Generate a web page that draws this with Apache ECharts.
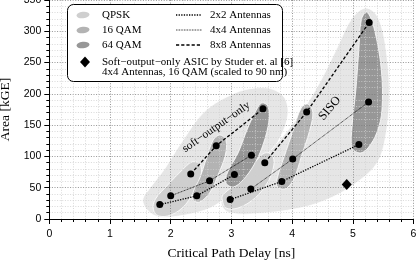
<!DOCTYPE html>
<html><head><meta charset="utf-8">
<script src="https://cdn.jsdelivr.net/npm/echarts@6/dist/echarts.min.js"></script>
<style>html,body{margin:0;padding:0;background:#fff}#c{width:416px;height:264px}</style>
</head><body><div id="c"></div>
<script>
// ---- axis ranges ----
const xRange = {min: 0, max: 6, interval: 1};
const yRange = {min: 0, max: 350, interval: 50};
const xTitle = 'Critical Path Delay [ns]';
const yTitle = 'Area [kGE]';

// ---- data: [delay ns, area kGE], ordered QPSK -> 16QAM -> 64QAM ----
const soft2x2 = [[1.82,23],[2.43,37],[3.05,71]];
const soft4x4 = [[2.00,37],[2.64,61],[3.33,102]];
const soft8x8 = [[2.33,72],[2.75,117],[3.52,176]];
const siso2x2 = [[2.98,31],[3.83,60],[5.10,119]];
const siso4x4 = [[3.32,48],[4.01,96],[5.26,187]];
const siso8x8 = [[3.55,90],[4.24,171],[5.27,314]];
const studer  = [[4.90,55]];

// ---- region outlines (data units) ----
const softEnvelope = [[1.54,30.4],[1.63,12.8],[1.82,3.2],[2.24,6.4],[2.65,17.6],[2.94,36.8],[3.22,62.3],[3.55,94.3],[3.80,129.4],[3.93,166.2],[3.88,193.4],[3.67,207.7],[3.39,209.3],[3.06,201.3],[2.57,172.6],[2.15,118.3],[1.91,81.5],[1.66,49.5]];
const sisoEnvelope = [[2.83,25.6],[2.94,11.2],[3.31,8.0],[4.13,17.6],[4.67,35.2],[5.12,62.3],[5.40,89.5],[5.53,126.2],[5.60,190.2],[5.56,262.1],[5.42,321.2],[5.22,337.2],[4.99,321.2],[4.74,273.3],[4.46,218.9],[4.18,174.2],[3.88,135.8],[3.55,99.1],[3.19,62.3],[2.91,38.4]];
const softQPSK = [[1.71,19.2],[1.77,6.4],[1.95,4.8],[2.19,17.6],[2.38,43.1],[2.50,70.3],[2.48,87.9],[2.35,91.1],[2.19,78.3],[1.95,54.3],[1.76,33.6]];
const soft16QAM = [[2.37,30.4],[2.48,27.2],[2.65,43.1],[2.78,70.3],[2.90,102.3],[2.91,126.2],[2.81,134.2],[2.70,126.2],[2.58,94.3],[2.48,65.5],[2.37,43.1]];
const soft64QAM = [[2.91,57.5],[3.03,51.1],[3.19,62.3],[3.37,86.3],[3.52,118.3],[3.62,158.2],[3.60,180.6],[3.50,185.4],[3.41,174.2],[3.27,145.4],[3.11,105.5],[2.94,75.1]];
const sisoQPSK = [[2.85,30.4],[2.91,17.6],[3.11,17.6],[3.39,33.6],[3.60,59.1],[3.70,86.3],[3.67,102.3],[3.55,105.5],[3.42,94.3],[3.22,70.3],[3.01,51.1],[2.86,38.4]];
const siso16QAM = [[3.75,52.7],[3.88,47.9],[4.02,62.3],[4.16,102.3],[4.30,145.4],[4.34,171],[4.26,183.8],[4.15,177.4],[4.02,142.2],[3.88,102.3],[3.77,70.3]];
const siso64QAM = [[4.99,113.5],[5.12,105.5],[5.25,113.5],[5.40,139],[5.48,174.2],[5.47,238.1],[5.35,305.2],[5.23,330.8],[5.14,318],[5.10,270.1],[5.05,206.1],[4.99,150.2]];

// ---- annotation anchors (data units) ----
const softLabel = {text: 'soft\u2212output\u2212only', at: [2.75,147]};
const sisoLabel = {text: 'SISO', at: [4.62,177]};

const legendMods = ['QPSK','16 QAM','64 QAM'];
const legendAnts = ['2x2 Antennas','4x4 Antennas','8x8 Antennas'];
const legendRef = ['Soft\u2212output\u2212only ASIC by Studer et. al [6]','4x4 Antennas, 16 QAM (scaled to 90 nm)'];

const C_ENV = '#e6e6e6', C_QPSK = '#cfcfcf', C_16 = '#b3b3b3', C_64 = '#979797';
const blobs = [
  {pts: softEnvelope, color: C_ENV}, {pts: sisoEnvelope, color: C_ENV},
  {pts: softQPSK, color: C_QPSK}, {pts: sisoQPSK, color: C_QPSK},
  {pts: soft16QAM, color: C_16}, {pts: siso16QAM, color: C_16},
  {pts: soft64QAM, color: C_64}, {pts: siso64QAM, color: C_64}
];

const SERIF = '"Liberation Serif", "DejaVu Serif", serif';
const SANS = '"Liberation Sans", Arial, sans-serif';
const LEG_FONT = '11px ' + SERIF;

function antSeries(data, dash, width) {
  return {type: 'line', data: data, z: 4, symbol: 'circle', symbolSize: 7,
    itemStyle: {color: '#000', opacity: 1}, lineStyle: {color: '#000', width: width, type: dash}, silent: true};
}
const chart = echarts.init(document.getElementById('c'), null, {renderer: 'canvas'});
const axisCommon = {
  z: 2,
  axisLine: {show: true, lineStyle: {color: '#000', width: 1}},
  axisTick: {show: true, inside: false, length: 5, lineStyle: {color: '#000', width: 1}},
  minorTick: {show: true, splitNumber: 5, length: 3, lineStyle: {color: '#000', width: 1}},
  splitLine: {show: true, lineStyle: {color: '#7a7a7a', width: 0.8, type: [1, 1.6]}},
  minorSplitLine: {show: true, lineStyle: {color: '#cfcfcf', width: 0.8, type: [1, 1.6]}},
  axisLabel: {color: '#000', fontFamily: SANS, fontSize: 10.5},
  nameTextStyle: {color: '#000', fontFamily: SERIF, fontSize: 13.5}
};
const option = {
  animation: false,
  backgroundColor: '#fff',
  grid: {left: 49.3, right: 2.5, top: 0, bottom: 45, containLabel: false, outerBoundsMode: 'none'},
  xAxis: Object.assign({}, axisCommon, {type: 'value', min: xRange.min, max: xRange.max, interval: xRange.interval,
    name: xTitle, nameLocation: 'middle', nameGap: 27,
    axisLabel: Object.assign({}, axisCommon.axisLabel, {margin: 10})}),
  yAxis: Object.assign({}, axisCommon, {type: 'value', min: yRange.min, max: yRange.max, interval: yRange.interval,
    name: yTitle, nameLocation: 'middle', nameGap: 32,
    axisLabel: Object.assign({}, axisCommon.axisLabel, {margin: 8})}),
  series: [
    {type: 'custom', z: 1, silent: true, clip: true,
      data: blobs.map(b => b.pts[0]),
      renderItem: function (params, api) {
        const b = blobs[params.dataIndex];
        return {type: 'polygon', shape: {points: b.pts.map(p => api.coord(p)), smooth: 0.35},
          style: {fill: b.color, stroke: 'rgba(255,255,255,0.8)', lineWidth: 1}};
      }},
    antSeries(soft2x2, [1.3, 1.3], 1.3), antSeries(soft4x4, [0.8, 0.8], 0.9), antSeries(soft8x8, [3.2, 2], 1.3),
    antSeries(siso2x2, [1.3, 1.3], 1.3), antSeries(siso4x4, [0.8, 0.8], 0.9), antSeries(siso8x8, [3.2, 2], 1.3),
    {type: 'scatter', z: 4, data: studer, symbol: 'diamond', symbolSize: [10, 11], itemStyle: {color: '#000', opacity: 1}, silent: true},
    {type: 'custom', z: 3, silent: true,
      data: [softLabel.at, sisoLabel.at],
      renderItem: function (params, api) {
        const lab = [softLabel, sisoLabel][params.dataIndex];
        const p = api.coord(lab.at);
        const rot = params.dataIndex === 0 ? 35 : 50;
        const fs = params.dataIndex === 0 ? 11.5 : 12.5;
        return {type: 'text', x: p[0], y: p[1], rotation: rot * Math.PI / 180,
          style: {text: lab.text, fill: '#000', font: fs + 'px ' + SERIF, align: 'center', verticalAlign: 'middle'}};
      }}
  ],
  graphic: (function () {
    const g = [];
    g.push({type: 'rect', z: 100, shape: {x: 67.5, y: 4.5, width: 215, height: 77, r: 6},
      style: {fill: '#fff', stroke: '#000', lineWidth: 1}});
    const modCols = [C_QPSK, C_16, C_64];
    const rowY = [15, 30, 45];
    for (let i = 0; i < 3; i++) {
      g.push({type: 'ellipse', z: 101, x: 83, y: rowY[i], rotation: 0.12, shape: {cx: 0, cy: 0, rx: 6.5, ry: 3.3},
        style: {fill: modCols[i]}});
      g.push({type: 'text', z: 101, x: 102, y: rowY[i], style: {text: legendMods[i], font: LEG_FONT, fill: '#000', verticalAlign: 'middle'}});
      g.push({type: 'text', z: 101, x: 210, y: rowY[i], style: {text: legendAnts[i], font: LEG_FONT, fill: '#000', verticalAlign: 'middle'}});
    }
    const dashes = [[1.3, 1.3], [0.8, 0.8], [3.2, 2]];
    const widths = [1.3, 0.9, 1.3];
    for (let i = 0; i < 3; i++) {
      g.push({type: 'line', z: 101, shape: {x1: 176, y1: rowY[i], x2: 202, y2: rowY[i]},
        style: {stroke: '#000', lineWidth: widths[i], lineDash: dashes[i]}});
    }
    g.push({type: 'polygon', z: 101, shape: {points: [[85, 56.5], [90, 62], [85, 67.5], [80, 62]]}, style: {fill: '#000'}});
    g.push({type: 'text', z: 101, x: 102, y: 62, style: {text: legendRef[0], font: LEG_FONT, fill: '#000', verticalAlign: 'middle'}});
    g.push({type: 'text', z: 101, x: 102, y: 72.5, style: {text: legendRef[1], font: LEG_FONT, fill: '#000', verticalAlign: 'middle'}});
    return g;
  })()
};
chart.setOption(option);
</script></body></html>
